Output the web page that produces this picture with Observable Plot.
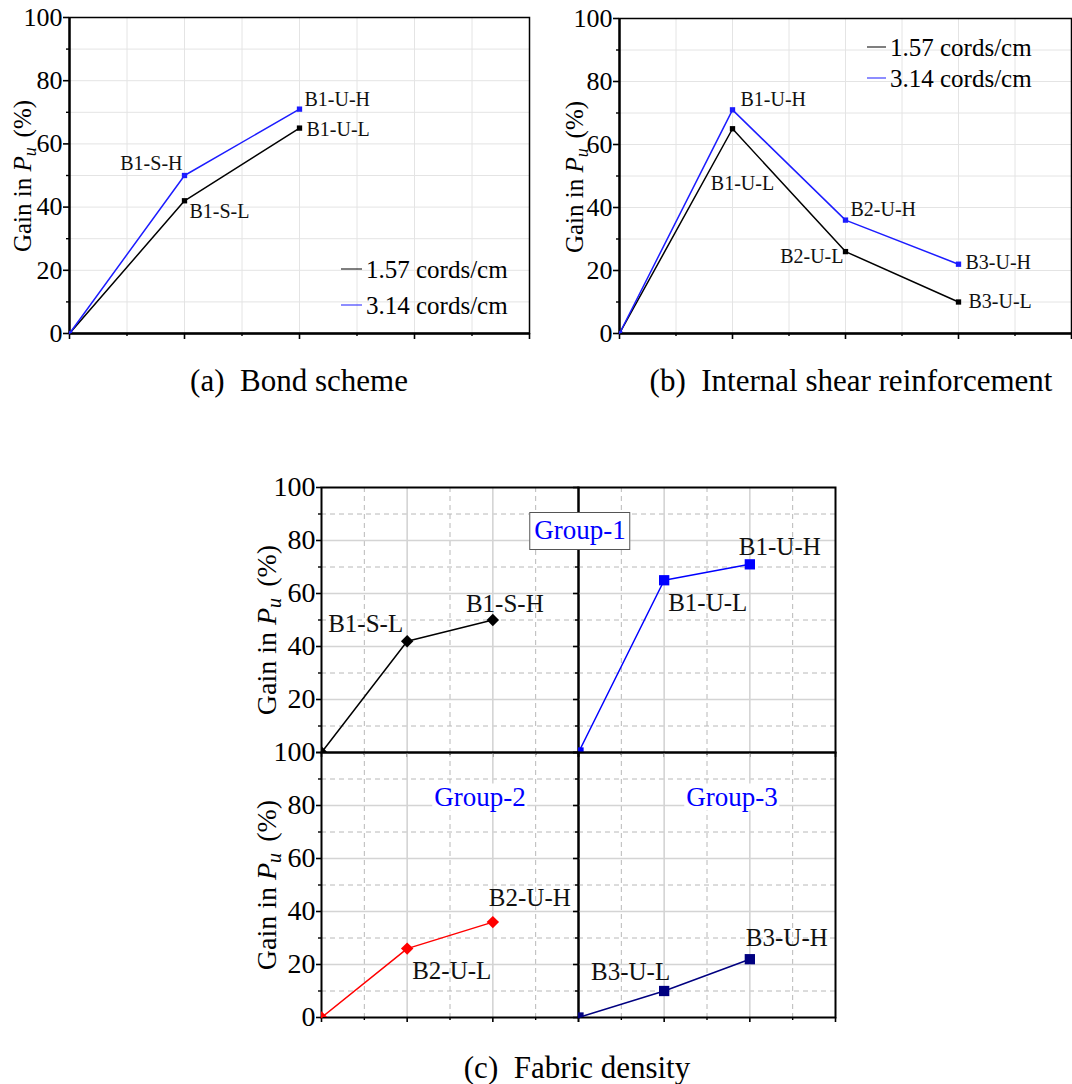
<!DOCTYPE html>
<html>
<head>
<meta charset="utf-8">
<script src="https://cdn.jsdelivr.net/npm/d3@7"></script>
<script src="https://cdn.jsdelivr.net/npm/@observablehq/plot@0.6"></script>
<style>
html,body{margin:0;padding:0;background:#fff;overflow:hidden}
#root{position:relative;width:1072px;height:1084px;overflow:hidden;font-family:"Liberation Serif","Times New Roman",serif;color:#000;background:#fff}
.pl{position:absolute}
.ylab{position:absolute;white-space:nowrap;transform:translate(-50%,-50%) rotate(-90deg);line-height:1}
.ylab sub{font-size:0.72em;vertical-align:-0.25em;line-height:0;margin-right:0.2em}
.cap{position:absolute;white-space:pre;transform:translate(-50%,-50%);line-height:1;font-size:31px}
.leg{position:absolute;white-space:nowrap;font-size:25px;line-height:1;transform:translateY(-50%);display:flex;align-items:center}
.leg span.ln{display:inline-block;height:0;border-top:1.6px solid;margin-right:4px}
.grp{position:absolute;white-space:nowrap;font-size:27px;line-height:1;color:#0000ff;transform:translate(-50%,-50%)}
</style>
</head>
<body>
<div id="root"></div>
<script>
// ---------------- data ----------------
const seriesNames = ["1.57 cords/cm", "3.14 cords/cm"];

// (a) Bond scheme
const bondPos = [0, 1, 2];
const bondLow = [0, 42, 65];
const bondHigh = [0, 50, 71];
const bondLowLabels = ["", "B1-S-L", "B1-U-L"];
const bondHighLabels = ["", "B1-S-H", "B1-U-H"];

// (b) Internal shear reinforcement
const shearPos = [0, 1, 2, 3];
const shearLow = [0, 65, 26, 10];
const shearHigh = [0, 71, 36, 22];
const shearLowLabels = ["", "B1-U-L", "B2-U-L", "B3-U-L"];
const shearHighLabels = ["", "B1-U-H", "B2-U-H", "B3-U-H"];

// (c) Fabric density
const fabricPos = [0, 1, 2];
const groupNames = ["Group-1", "Group-2", "Group-3"];
const fabricB1S = [0, 42, 50];
const fabricB1SLabels = ["", "B1-S-L", "B1-S-H"];
const fabricB1U = [0, 65, 71];
const fabricB1ULabels = ["", "B1-U-L", "B1-U-H"];
const fabricB2U = [0, 26, 36];
const fabricB2ULabels = ["", "B2-U-L", "B2-U-H"];
const fabricB3U = [0, 10, 22];
const fabricB3ULabels = ["", "B3-U-L", "B3-U-H"];

const yTicks = [0, 20, 40, 60, 80, 100];
const yMinor = [10, 30, 50, 70, 90];

const captions = ["(a)  Bond scheme", "(b)  Internal shear reinforcement", "(c)  Fabric density"];

// ---------------- styles (label placement) ----------------
const labelStyle = {
  a: {
    "B1-S-H": {a: "end", dx: -2, dy: -12},
    "B1-S-L": {a: "start", dx: 5, dy: 11},
    "B1-U-H": {a: "start", dx: 5, dy: -10},
    "B1-U-L": {a: "start", dx: 7, dy: 1}
  },
  b: {
    "B1-U-H": {a: "start", dx: 8, dy: -10},
    "B1-U-L": {a: "middle", dx: 10, dy: 55},
    "B2-U-H": {a: "start", dx: 5, dy: -11},
    "B2-U-L": {a: "end", dx: -2, dy: 5},
    "B3-U-H": {a: "start", dx: 7, dy: -2},
    "B3-U-L": {a: "start", dx: 10, dy: 0}
  },
  c: {
    "B1-S-L": {a: "end", dx: -4, dy: -17},
    "B1-S-H": {a: "middle", dx: 12, dy: -16},
    "B1-U-L": {a: "start", dx: 4, dy: 23},
    "B1-U-H": {a: "middle", dx: 30, dy: -17},
    "B2-U-L": {a: "start", dx: 5, dy: 22},
    "B2-U-H": {a: "start", dx: -4, dy: -24},
    "B3-U-L": {a: "end", dx: 6, dy: -19},
    "B3-U-H": {a: "start", dx: -4, dy: -21}
  }
};

const rowsOf = (pos, vals, labels) => pos.map((p, i) => ({x: p, y: vals[i], label: labels[i]}));

const root = document.getElementById("root");
const FONT = "Liberation Serif, Times New Roman, serif";

function makePlot(cfg) {
  const {series, xMax, width, height, ml, mr, mt, mb, yLabeled, yUnlabeled, tickFont,
         labelFont, styles, dashed, frameW, thickAxes, majorTick, minorTick} = cfg;
  const xMajor = d3.range(0, xMax + 1);
  const xMinor = d3.range(0.5, xMax, 1);
  const marks = [];
  if (dashed) {
    marks.push(Plot.gridX(xMinor, {stroke: "#b8b8b8", strokeOpacity: 1, strokeWidth: 1, strokeDasharray: "5,4"}));
    marks.push(Plot.gridY(yMinor, {stroke: "#b8b8b8", strokeOpacity: 1, strokeWidth: 1, strokeDasharray: "5,4"}));
    marks.push(Plot.gridX(xMajor.slice(1, -1), {stroke: "#d4d4d4", strokeOpacity: 1, strokeWidth: 1.6}));
    marks.push(Plot.gridY(yTicks.slice(1, -1), {stroke: "#d4d4d4", strokeOpacity: 1, strokeWidth: 1.6}));
  } else {
    marks.push(Plot.gridX([...xMinor, ...xMajor.slice(1, -1)], {stroke: "#e4e4e4", strokeOpacity: 1, strokeWidth: 1}));
    marks.push(Plot.gridY([...yMinor, ...yTicks.slice(1, -1)], {stroke: "#e4e4e4", strokeOpacity: 1, strokeWidth: 1}));
  }
  if (yLabeled && yLabeled.length) {
    marks.push(Plot.axisY(yLabeled, {anchor: "left", tickSize: majorTick, tickPadding: 1, fontSize: tickFont, fontFamily: FONT, label: null, strokeWidth: 1.6}));
  }
  if (yUnlabeled && yUnlabeled.length) {
    marks.push(Plot.axisY(yUnlabeled, {anchor: "left", tickSize: majorTick, tickFormat: () => "", label: null, strokeWidth: 1.6}));
  }
  marks.push(Plot.axisY(yMinor, {anchor: "left", tickSize: minorTick, tickFormat: () => "", label: null, strokeWidth: 1.4}));
  marks.push(Plot.axisX(xMajor, {anchor: "bottom", tickSize: majorTick, tickFormat: () => "", label: null, strokeWidth: 1.6}));
  marks.push(Plot.axisX(xMinor, {anchor: "bottom", tickSize: minorTick, tickFormat: () => "", label: null, strokeWidth: 1.4}));
  marks.push(Plot.frame({stroke: "#000", strokeWidth: frameW}));
  if (thickAxes) {
    marks.push(Plot.ruleX([0], {stroke: "#000", strokeWidth: 2.4}));
    marks.push(Plot.ruleY([0], {stroke: "#000", strokeWidth: 2.4}));
  }
  for (const s of series) {
    marks.push(Plot.line(s.rows, {x: "x", y: "y", stroke: s.color, strokeWidth: s.lw || 1.5}));
    marks.push(Plot.dot(s.rows, {x: "x", y: "y", symbol: s.symbol, r: s.r, fill: s.color, stroke: "none", clip: true}));
    for (const row of s.rows) {
      if (!row.label) continue;
      const st = styles[row.label];
      marks.push(Plot.text([row], {x: "x", y: "y", text: "label", textAnchor: st.a, dx: st.dx, dy: st.dy,
        fontSize: labelFont, fontFamily: FONT, fill: "#111"}));
    }
  }
  return Plot.plot({
    width, height, marginLeft: ml, marginRight: mr, marginTop: mt, marginBottom: mb,
    x: {domain: [0, xMax], label: null},
    y: {domain: [0, 100], label: null},
    style: {fontFamily: FONT, background: "transparent", color: "#000", overflow: "visible"},
    marks
  });
}

function place(el, left, top) {
  const d = document.createElement("div");
  d.className = "pl";
  d.style.left = left + "px";
  d.style.top = top + "px";
  d.appendChild(el);
  root.appendChild(d);
}

function html(cls, left, top, inner, extra) {
  const d = document.createElement("div");
  d.className = cls;
  d.style.left = left + "px";
  d.style.top = top + "px";
  if (extra) Object.assign(d.style, extra);
  d.innerHTML = inner;
  root.appendChild(d);
  return d;
}

const BLUE_AB = "#1c1cff";

// ---------- (a) ----------
place(makePlot({
  series: [
    {rows: rowsOf(bondPos, bondLow, bondLowLabels), color: "#000", symbol: "square", r: 3},
    {rows: rowsOf(bondPos, bondHigh, bondHighLabels), color: BLUE_AB, symbol: "square", r: 3}
  ],
  xMax: 4, width: 545, height: 350, ml: 69, mr: 16, mt: 17, mb: 17,
  yLabeled: yTicks, yUnlabeled: [], tickFont: 26, labelFont: 20, styles: labelStyle.a,
  dashed: false, frameW: 1.5, thickAxes: true, majorTick: 6, minorTick: 3
}), 0, 0);

// ---------- (b) ----------
place(makePlot({
  series: [
    {rows: rowsOf(shearPos, shearLow, shearLowLabels), color: "#000", symbol: "square", r: 3},
    {rows: rowsOf(shearPos, shearHigh, shearHighLabels), color: BLUE_AB, symbol: "square", r: 3}
  ],
  xMax: 4, width: 527, height: 350, ml: 74, mr: 1, mt: 18, mb: 17,
  yLabeled: yTicks, yUnlabeled: [], tickFont: 26, labelFont: 20, styles: labelStyle.b,
  dashed: false, frameW: 1.5, thickAxes: true, majorTick: 6, minorTick: 3
}), 545, 0);

// ---------- (c) ----------
const cCommon = {xMax: 3, height: 292, mt: 17, mb: 10, tickFont: 28, labelFont: 25, styles: labelStyle.c,
  dashed: true, frameW: 2, thickAxes: false, majorTick: 5, minorTick: 3};
place(makePlot({...cCommon,
  series: [{rows: rowsOf(fabricPos, fabricB1S, fabricB1SLabels), color: "#000", symbol: "diamond2", r: 5.6}],
  width: 340, ml: 71, mr: 12, yLabeled: yTicks.slice(1), yUnlabeled: [0]
}), 250, 470);
place(makePlot({...cCommon,
  series: [{rows: rowsOf(fabricPos, fabricB1U, fabricB1ULabels), color: "#0000ff", symbol: "square", r: 5.8}],
  width: 277, ml: 10, mr: 10, yLabeled: [], yUnlabeled: yTicks
}), 568, 470);
place(makePlot({...cCommon,
  series: [{rows: rowsOf(fabricPos, fabricB2U, fabricB2ULabels), color: "#ff0000", symbol: "diamond2", r: 5.6}],
  width: 340, ml: 71, mr: 12, yLabeled: yTicks, yUnlabeled: []
}), 250, 735);
place(makePlot({...cCommon,
  series: [{rows: rowsOf(fabricPos, fabricB3U, fabricB3ULabels), color: "#000080", symbol: "square", r: 5.8}],
  width: 277, ml: 10, mr: 10, yLabeled: [], yUnlabeled: yTicks
}), 568, 735);

// ---------- axis titles ----------
const yTitle = 'Gain in <i>P</i><sub><i>u</i></sub> (%)';
html("ylab", 22, 176, yTitle, {fontSize: "25px"});
html("ylab", 574, 177, yTitle, {fontSize: "25px"});
html("ylab", 267, 630, yTitle, {fontSize: "28px"});
html("ylab", 267, 885, yTitle, {fontSize: "28px"});

// ---------- legends ----------
function legend(left, top, name, color, lineW) {
  html("leg", left, top, `<span class="ln" style="width:${lineW}px;border-color:${color}"></span><span>${name}</span>`);
}
legend(341, 269, seriesNames[0], "#000", 21);
legend(341, 305, seriesNames[1], BLUE_AB, 21);
legend(867, 47, seriesNames[0], "#000", 19);
legend(867, 78, seriesNames[1], BLUE_AB, 19);

// ---------- group labels ----------
html("grp", 580, 531, groupNames[0], {background: "#fff", border: "1.5px solid #555", padding: "4px 4px 5px 4px"});
html("grp", 480, 797, groupNames[1], {background: "#fff", padding: "0 2px"});
html("grp", 732, 797, groupNames[2], {background: "#fff", padding: "0 2px"});

// ---------- captions ----------
html("cap", 299, 380, captions[0]);
html("cap", 851, 380, captions[1]);
html("cap", 577, 1067, captions[2]);
</script>
</body>
</html>
